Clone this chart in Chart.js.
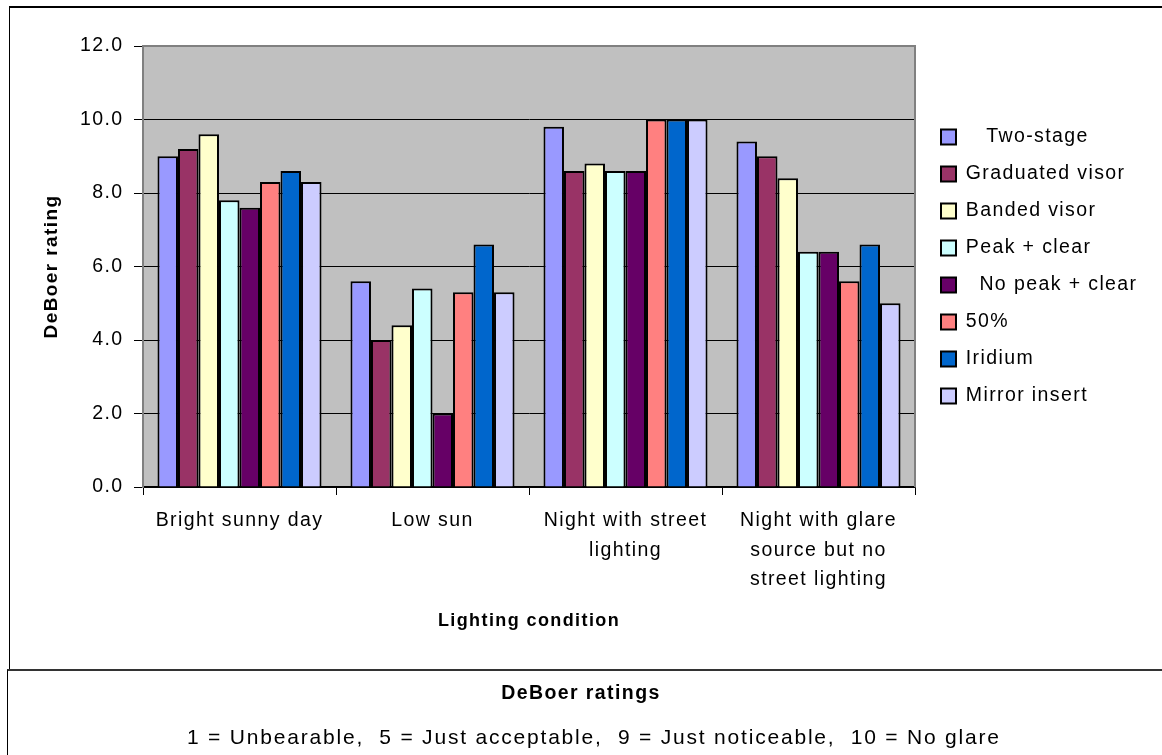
<!DOCTYPE html>
<html>
<head>
<meta charset="utf-8">
<script src="https://cdn.jsdelivr.net/npm/chart.js@4.4.1/dist/chart.umd.min.js"></script>
<style>
  html, body { margin: 0; padding: 0; background: #fff; width: 1162px; height: 755px; overflow: hidden;
    font-family: "Liberation Sans", Arial, sans-serif; }
  #frame1 { position: absolute; left: 9px; top: 6px; width: 1200px; height: 700px;
    border-left: 1px solid #000; border-top: 2px solid #000; }
  #wrap { position: absolute; left: 0; top: 0; width: 1162px; height: 670px; }
  #frame2 { position: absolute; left: 7px; top: 669px; width: 1200px; height: 120px;
    border-left: 1px solid #000; border-top: 2px solid #333; background: #fff; }
  .note { position: absolute; color: #000; white-space: pre; }
  #n1 { left: 0; width: 1162px; text-align: center; top: 680px; font-size: 19.5px; line-height: 24px; font-weight: bold; letter-spacing: 1.4px; }
  #n2 { left: 187px; top: 724px; font-size: 21px; line-height: 26px; letter-spacing: 1.8px; }
</style>
</head>
<body>
<div id="frame1"></div>
<div id="wrap"><canvas id="c" width="1162" height="670"></canvas></div>
<div id="frame2"></div>
<div class="note" id="n1">DeBoer ratings</div>
<div class="note" id="n2">1 = Unbearable,  5 = Just acceptable,  9 = Just noticeable,  10 = No glare</div>
<script>
// ---- data ----
const categories = ['Bright sunny day', 'Low sun', ['Night with street', 'lighting'],
  ['Night with glare', 'source but no', 'street lighting']];
const seriesNames = ['   Two-stage', 'Graduated visor', 'Banded visor', 'Peak + clear',
  '  No peak + clear', '50%', 'Iridium', 'Mirror insert'];
const twoStage       = [9.0, 5.6, 9.8, 9.4];
const graduatedVisor = [9.2, 4.0, 8.6, 9.0];
const bandedVisor    = [9.6, 4.4, 8.8, 8.4];
const peakClear      = [7.8, 5.4, 8.6, 6.4];
const noPeakClear    = [7.6, 2.0, 8.6, 6.4];
const fiftyPercent   = [8.3, 5.3, 10.0, 5.6];
const iridium        = [8.6, 6.6, 10.0, 6.6];
const mirrorInsert   = [8.3, 5.3, 10.0, 5.0];
const seriesColors = ['#9999FF', '#993366', '#FFFFCC', '#CCFFFF', '#660066', '#FF8080', '#0066CC', '#CCCCFF'];
const yMin = 0, yMax = 12, yStep = 2;
const xTitle = 'Lighting condition';
const yTitle = 'DeBoer rating';

const seriesValues = [twoStage, graduatedVisor, bandedVisor, peakClear, noPeakClear, fiftyPercent, iridium, mirrorInsert];

Chart.defaults.font.family = '"Liberation Sans", Arial, sans-serif';
Chart.defaults.color = '#000';

const LS = '1.4px';
const spacingPlugin = {
  id: 'spacing',
  beforeUpdate(c) { c.ctx.letterSpacing = LS; },
  beforeLayout(c) { c.ctx.letterSpacing = LS; },
  beforeDraw(c) { c.ctx.letterSpacing = LS; }
};

const plotPlugin = {
  id: 'plotBg',
  beforeDraw(c) {
    const { ctx, chartArea: a } = c;
    ctx.save();
    ctx.fillStyle = '#C0C0C0';
    ctx.fillRect(a.left, a.top, a.width, a.height);
    ctx.restore();
  },
  beforeDatasetsDraw(c) {
    const { ctx, chartArea: a } = c;
    ctx.save();
    ctx.strokeStyle = '#808080';
    ctx.lineWidth = 2;
    ctx.beginPath();
    ctx.moveTo(a.left, a.bottom);
    ctx.lineTo(a.left, a.top);
    ctx.lineTo(a.right, a.top);
    ctx.lineTo(a.right, a.bottom);
    ctx.stroke();
    ctx.restore();
  },
  afterLayout(c) {
    if (c.legend) { c.legend.left += 8.5; c.legend.right += 8.5; }
  }
};

const cfg = {
  type: 'bar',
  data: {
    labels: categories,
    datasets: seriesNames.map((n, i) => ({
      label: n,
      data: seriesValues[i],
      backgroundColor: seriesColors[i],
      borderColor: '#000',
      borderWidth: 2,
      categoryPercentage: 0.85,
      barPercentage: 1.0
    }))
  },
  options: {
    responsive: false,
    animation: false,
    layout: { padding: { top: 46, right: 10, bottom: 0, left: 0 } },
    plugins: {
      tooltip: { enabled: false },
      legend: {
        position: 'right',
        fullSize: false,
        labels: { boxWidth: 15, boxHeight: 15, padding: 17.5, color: '#000', font: { size: 19.5 } }
      }
    },
    scales: {
      x: {
        ticks: { color: '#000', font: { size: 19.5, lineHeight: 1.513 }, padding: 11, maxRotation: 0, autoSkip: false },
        grid: { offset: true, drawOnChartArea: false, drawTicks: true, tickLength: 8, color: '#000' },
        border: { display: true, color: '#000', width: 1.5 },
        title: { display: true, text: xTitle, color: '#000', font: { size: 18, weight: 'bold' }, padding: { top: 0, bottom: 38.2 } },
        afterFit(s) { s.height = 183; }
      },
      y: {
        min: yMin, max: yMax,
        ticks: { stepSize: yStep, color: '#000', font: { size: 19.5 }, padding: 10.5, callback: v => Number(v).toFixed(1) },
        grid: { color: '#000', lineWidth: 1, tickLength: 9, tickColor: '#000', drawTicks: true },
        border: { display: true, color: '#808080', width: 2 },
        title: { display: true, text: yTitle, color: '#000', font: { size: 19, weight: 'bold' }, padding: { top: 40.6, bottom: 0 } },
        afterFit(s) { s.width = 143; }
      }
    }
  },
  plugins: [spacingPlugin, plotPlugin]
};

const chart = new Chart(document.getElementById('c'), cfg);
const dx = chart.chartArea.right - 915;
chart.options.layout.padding.right = 10 + dx;
chart.update();
</script>
</body>
</html>
